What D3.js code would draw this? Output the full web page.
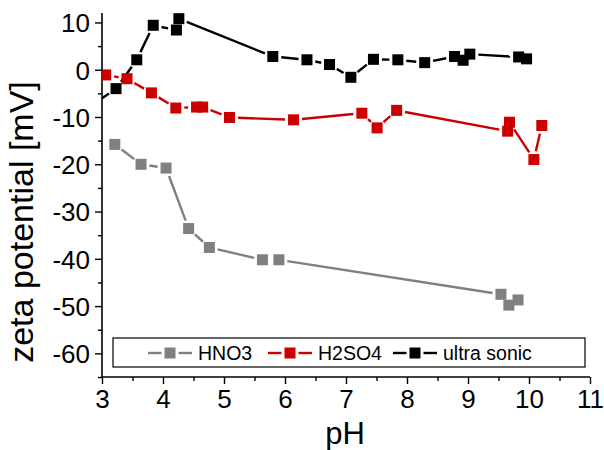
<!DOCTYPE html>
<html>
<head>
<meta charset="utf-8">
<script src="https://cdn.jsdelivr.net/npm/d3@7"></script>
<style>
body{margin:0;background:#fff;}
svg{display:block;font-family:"Liberation Sans",Arial,sans-serif;}
</style>
</head>
<body>
<svg id="chart" width="604" height="450"></svg>
<script>
// ---- data ----
const hno3X = [3.21, 3.64, 4.05, 4.42, 4.76, 5.63, 5.90, 9.54, 9.67, 9.82];
const hno3Y = [-15.8, -20.0, -20.8, -33.6, -37.6, -40.2, -40.2, -47.5, -49.8, -48.7];
const h2so4X = [3.06, 3.41, 3.81, 4.21, 4.55, 4.65, 5.09, 6.14, 7.26, 7.51, 7.83, 9.65, 9.68, 10.08, 10.21];
const h2so4Y = [-1.1, -1.9, -4.9, -8.1, -7.9, -7.9, -10.1, -10.6, -9.2, -12.3, -8.6, -13.0, -11.1, -19.0, -11.8];
const usX = [2.8, 3.23, 3.57, 3.84, 4.22, 4.26, 5.80, 6.36, 6.73, 7.08, 7.45, 7.85, 8.29, 8.78, 8.92, 9.03, 9.83, 9.96];
const usY = [-7.8, -4.0, 2.1, 9.4, 8.4, 10.8, 2.8, 2.1, 1.1, -1.6, 2.2, 2.1, 1.5, 2.8, 2.0, 3.3, 2.7, 2.3];
const seriesNames = ["HNO3", "H2SO4", "ultra sonic"];
const seriesColors = ["#808080", "#cc0000", "#000000"];
const xTicks = [3, 4, 5, 6, 7, 8, 9, 10, 11];
const yTicks = [-60, -50, -40, -30, -20, -10, 0, 10];

const series = [
  {name: seriesNames[0], color: seriesColors[0], pts: hno3X.map((x, i) => [x, hno3Y[i]])},
  {name: seriesNames[1], color: seriesColors[1], pts: h2so4X.map((x, i) => [x, h2so4Y[i]])},
  {name: seriesNames[2], color: seriesColors[2], pts: usX.map((x, i) => [x, usY[i]])}
];

const svg = d3.select("#chart");
const L = 102, R = 590, T = 13, B = 377;
const x = d3.scaleLinear().domain([3, 11]).range([L, R]);
const y = d3.scaleLinear().domain([-65, 12]).range([B, T]);

svg.append("clipPath").attr("id", "clip").append("rect")
  .attr("x", L).attr("y", T).attr("width", R - L).attr("height", B - T);

const fmt = d => String(d);
// axes
const xAxis = d3.axisBottom(x).tickValues(xTicks).tickSize(7).tickPadding(6).tickFormat(fmt);
const xMinor = d3.axisBottom(x).tickValues(d3.range(3.5, 11, 1)).tickSize(4).tickFormat("");
const yAxis = d3.axisLeft(y).tickValues(yTicks).tickSize(7).tickPadding(5).tickFormat(fmt);
const yMinor = d3.axisLeft(y).tickValues(d3.range(-65, 12, 10)).tickSize(4).tickFormat("");

function styleAxis(g) {
  g.select(".domain").attr("stroke", "#000").attr("stroke-width", 1.6);
  g.selectAll(".tick line").attr("stroke", "#000").attr("stroke-width", 1.4);
  g.selectAll(".tick text").attr("fill", "#000").style("font-size", "26px")
    .style("font-family", '"Liberation Sans",Arial,sans-serif');
}
const gx = svg.append("g").attr("transform", `translate(0,${B})`).call(xAxis);
styleAxis(gx);
const gxm = svg.append("g").attr("transform", `translate(0,${B})`).call(xMinor);
gxm.select(".domain").remove();
gxm.selectAll(".tick line").attr("stroke", "#000").attr("stroke-width", 1.4);
const gy = svg.append("g").attr("transform", `translate(${L},0)`).call(yAxis);
styleAxis(gy);
gy.selectAll(".tick text").attr("dy", "0.36em");
const gym = svg.append("g").attr("transform", `translate(${L},0)`).call(yMinor);
gym.select(".domain").remove();
gym.selectAll(".tick line").attr("stroke", "#000").attr("stroke-width", 1.4);
gx.select(".domain").attr("d", `M${L},0H${R}`);
gy.select(".domain").attr("d", `M0,${T}V${B}`);

// axis titles
svg.append("text").attr("x", 345).attr("y", 444).attr("text-anchor", "middle")
  .style("font-size", "31px").text("pH");
svg.append("text").attr("transform", `translate(33,222) rotate(-90)`)
  .attr("text-anchor", "middle").style("font-size", "34px").text("zeta potential [mV]");

// series
const MS = 11, GAP = 3;
const plot = svg.append("g").attr("clip-path", "url(#clip)");
series.forEach(s => {
  const g = plot.append("g");
  for (let i = 0; i < s.pts.length - 1; i++) {
    const x1 = x(s.pts[i][0]), y1 = y(s.pts[i][1]);
    const x2 = x(s.pts[i + 1][0]), y2 = y(s.pts[i + 1][1]);
    const dx = x2 - x1, dy = y2 - y1, len = Math.hypot(dx, dy);
    const cut = MS / 2 + GAP;
    if (len <= 2 * cut) continue;
    const ux = dx / len, uy = dy / len;
    g.append("line")
      .attr("x1", x1 + ux * cut).attr("y1", y1 + uy * cut)
      .attr("x2", x2 - ux * cut).attr("y2", y2 - uy * cut)
      .attr("stroke", s.color).attr("stroke-width", 2.4);
  }
});
series.forEach(s => {
  plot.append("g").selectAll("rect").data(s.pts).join("rect")
    .attr("x", d => x(d[0]) - MS / 2).attr("y", d => y(d[1]) - MS / 2)
    .attr("width", MS).attr("height", MS)
    .attr("fill", s.color);
});

// legend
const lg = svg.append("g");
lg.append("rect").attr("x", 113).attr("y", 338).attr("width", 472).attr("height", 29)
  .attr("fill", "#fff").attr("stroke", "#000").attr("stroke-width", 1.2);
const legX = [148, 268, 393];
const legTextX = [198, 318, 443];
series.forEach((s, i) => {
  const cx = legX[i] + 22, cy = 353;
  lg.append("line").attr("x1", legX[i]).attr("x2", cx - MS / 2 - 3).attr("y1", cy).attr("y2", cy)
    .attr("stroke", s.color).attr("stroke-width", 2.4);
  lg.append("line").attr("x1", cx + MS / 2 + 3).attr("x2", legX[i] + 44).attr("y1", cy).attr("y2", cy)
    .attr("stroke", s.color).attr("stroke-width", 2.4);
  lg.append("rect").attr("x", cx - MS / 2).attr("y", cy - MS / 2).attr("width", MS).attr("height", MS)
    .attr("fill", s.color);
  lg.append("text").attr("x", legTextX[i]).attr("y", 360).style("font-size", "19.5px").text(s.name);
});
</script>
</body>
</html>
